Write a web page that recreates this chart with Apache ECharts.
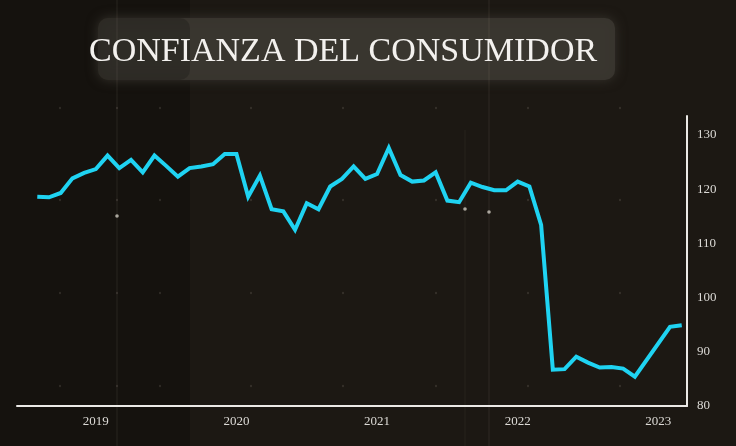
<!DOCTYPE html>
<html>
<head>
<meta charset="utf-8">
<script src="https://cdn.jsdelivr.net/npm/echarts@6/dist/echarts.min.js"></script>
<style>html,body{margin:0;padding:0;background:#1c1813;}#c{width:736px;height:446px;}</style>
</head>
<body>
<div id="c"></div>
<script>
// Monthly categories (Aug 2018 .. Mar 2023)
const months = [
 '2018-08','2018-09','2018-10','2018-11','2018-12',
 '2019-01','2019-02','2019-03','2019-04','2019-05','2019-06','2019-07','2019-08','2019-09','2019-10','2019-11','2019-12',
 '2020-01','2020-02','2020-03','2020-04','2020-05','2020-06','2020-07','2020-08','2020-09','2020-10','2020-11','2020-12',
 '2021-01','2021-02','2021-03','2021-04','2021-05','2021-06','2021-07','2021-08','2021-09','2021-10','2021-11','2021-12',
 '2022-01','2022-02','2022-03','2022-04','2022-05','2022-06','2022-07','2022-08','2022-09','2022-10','2022-11','2022-12',
 '2023-01','2023-02','2023-03'
];
// Consumer confidence values (null = not drawn as a vertex)
const confidence = [
 118.6,118.5,119.3,122.0,123.0,
 123.7,126.2,123.9,125.4,123.1,126.2,124.3,122.3,123.9,124.2,124.6,126.5,
 126.5,118.6,122.5,116.3,115.9,112.5,117.4,116.3,120.5,121.9,124.2,121.9,
 122.8,127.6,122.6,121.4,121.6,123.1,117.9,117.6,121.2,120.4,119.8,119.8,
 121.4,120.5,113.4,86.7,86.8,89.1,88.0,87.1,87.2,86.9,85.4,null,
 null,94.6,94.9
];
const yearTicks = ['2019','2020','2021','2022','2023'];
const yTicks = [80,90,100,110,120,130];

const seriesData = months.map((m,i)=>[i, confidence[i]]);
const yearIdx = yearTicks.map(y => months.indexOf(y + '-01'));

const serif = "'Liberation Serif', 'DejaVu Serif', serif";

// decorative background dots
const dots = [];
[108,200,293,386].forEach(y=>{
  [60,117,160,251,343,436,528,620].forEach(x=>{
    dots.push({type:'circle', shape:{cx:x, cy:y, r:1.2}, style:{fill:'rgba(200,190,175,0.14)'}, silent:true, z:-9});
  });
});

const chart = echarts.init(document.getElementById('c'));
chart.setOption({
  backgroundColor:'#1c1813',
  animation:false,
  graphic:[
    {type:'rect', shape:{x:0,y:0,width:190,height:446}, style:{fill:'rgba(0,0,0,0.22)'}, silent:true, z:-10},
    {type:'rect', shape:{x:98,y:18,width:517,height:62, r:10}, style:{fill:'#3a3630', opacity:0.9, shadowBlur:12, shadowColor:'#3a3630'}, silent:true, z:-9},
    {type:'rect', shape:{x:98,y:18,width:92,height:62, r:10}, style:{fill:'rgba(0,0,0,0.18)'}, silent:true, z:-8},
    {type:'line', shape:{x1:117,y1:0,x2:117,y2:446}, style:{stroke:'rgba(220,210,190,0.10)', lineWidth:1}, silent:true, z:-8},
    {type:'line', shape:{x1:489,y1:0,x2:489,y2:446}, style:{stroke:'rgba(220,210,190,0.10)', lineWidth:1}, silent:true, z:-8},
    {type:'line', shape:{x1:465,y1:130,x2:465,y2:446}, style:{stroke:'rgba(220,210,190,0.06)', lineWidth:1}, silent:true, z:-8},
    {type:'circle', shape:{cx:117, cy:216, r:1.8}, style:{fill:'rgba(230,225,215,0.7)'}, silent:true, z:-7},
    {type:'circle', shape:{cx:465, cy:209, r:1.8}, style:{fill:'rgba(230,225,215,0.7)'}, silent:true, z:-7},
    {type:'circle', shape:{cx:489, cy:212, r:1.8}, style:{fill:'rgba(230,225,215,0.7)'}, silent:true, z:-7}
  ].concat(dots),
  title:{
    text:'CONFIANZA DEL CONSUMIDOR',
    left:84, top:30,
    textStyle:{fontFamily:serif, fontWeight:'normal', fontSize:34, color:'#f3f1ee'}
  },
  grid:{left:17, right:49, top:116, bottom:40, containLabel:false},
  xAxis:{
    type:'value', min:-1.73, max:55.45,
    splitLine:{show:false},
    axisTick:{show:false},
    axisLine:{show:true, onZero:false, lineStyle:{color:'#ebe9e6', width:2}},
    axisLabel:{
      customValues: yearIdx,
      formatter:(v)=>{ const k = yearIdx.indexOf(Math.round(v)); return k>=0 ? yearTicks[k] : ''; },
      color:'#dcdad6', fontFamily:serif, fontSize:13, margin:9
    }
  },
  yAxis:{
    type:'value', position:'right', min:80, max:133.5,
    splitLine:{show:false},
    axisTick:{show:false},
    axisLine:{show:true, onZero:false, lineStyle:{color:'#ebe9e6', width:2}},
    axisLabel:{
      customValues: yTicks,
      color:'#dcdad6', fontFamily:serif, fontSize:13, margin:10
    }
  },
  series:[{
    type:'line',
    data:seriesData,
    connectNulls:true,
    showSymbol:false,
    symbol:'none',
    lineStyle:{color:'#1fd3f2', width:4, join:'miter'},
    clip:false
  }]
});
</script>
</body>
</html>
